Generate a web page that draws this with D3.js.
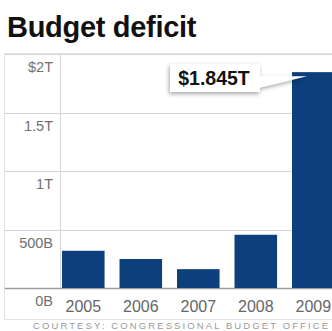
<!DOCTYPE html>
<html>
<head>
<meta charset="utf-8">
<script src="https://cdn.jsdelivr.net/npm/d3@7"></script>
<style>
  body { margin: 0; background: #fff; }
  svg { display: block; font-family: "Liberation Sans", Arial, sans-serif; }
</style>
</head>
<body>
<div id="chart"></div>
<script>
// data (billions of dollars)
const years = ["2005", "2006", "2007", "2008", "2009"];
const deficits = [318, 248, 161, 455, 1845];
const tickValues = [0, 500, 1000, 1500, 2000];
const tickLabels = ["0B", "500B", "1T", "1.5T", "$2T"];
const calloutText = "$1.845T";

const W = 332, H = 331;

const svg = d3.select("#chart").append("svg")
  .attr("width", W)
  .attr("height", H);

// drop shadow for the callout
const defs = svg.append("defs");
defs.append("filter")
  .attr("id", "shadow")
  .attr("x", "-20%").attr("y", "-30%")
  .attr("width", "150%").attr("height", "180%")
  .append("feDropShadow")
  .attr("dx", -1).attr("dy", 2)
  .attr("stdDeviation", 2)
  .attr("flood-color", "#000")
  .attr("flood-opacity", 0.35);

// scales
var step = 57.5, pin = 0.26, pout = 0.035;
var x = d3.scaleBand()
  .domain(years)
  .range([60, 60 + step * (years.length - pin + 2 * pout)])
  .paddingInner(pin)
  .paddingOuter(pout);

var y = d3.scaleLinear()
  .domain([0, 2000])
  .range([288, 54]);

// title
svg.append("text")
  .attr("x", 7)
  .attr("y", 37)
  .attr("font-size", 29)
  .attr("font-weight", "bold")
  .attr("fill", "#111")
  .attr("letter-spacing", -0.3)
  .text("Budget deficit");

// frame
svg.append("rect")
  .attr("x", 4.5)
  .attr("y", 53.5)
  .attr("width", 340)
  .attr("height", 266)
  .attr("fill", "none")
  .attr("stroke", "#e2e2e2");

// gridlines
svg.selectAll(".grid")
  .data(tickValues)
  .enter().append("line")
  .attr("class", "grid")
  .attr("x1", 5)
  .attr("x2", W)
  .attr("y1", function(d) { return Math.round(y(d)) + 0.5; })
  .attr("y2", function(d) { return Math.round(y(d)) + 0.5; })
  .attr("stroke", function(d) { return d === 0 ? "#9a9a9a" : "#d4d4d4"; })
  .attr("stroke-width", function(d) { return d === 0 ? 1.5 : 1; });

// vertical axis line
svg.append("line")
  .attr("x1", 60.5).attr("x2", 60.5)
  .attr("y1", y(2000)).attr("y2", y(0))
  .attr("stroke", "#d4d4d4");

// y tick labels sit below their gridline
svg.selectAll(".ylabel")
  .data(tickValues)
  .enter().append("text")
  .attr("class", "ylabel")
  .attr("x", 53)
  .attr("y", function(d) { return y(d) + 18; })
  .attr("text-anchor", "end")
  .attr("font-size", 14.5)
  .attr("fill", "#707070")
  .text(function(d, i) { return tickLabels[i]; });

// bars
svg.selectAll(".bar")
  .data(deficits)
  .enter().append("rect")
  .attr("class", "bar")
  .attr("x", function(d, i) { return x(years[i]); })
  .attr("width", x.bandwidth())
  .attr("y", function(d) { return y(d); })
  .attr("height", function(d) { return y(0) - y(d); })
  .attr("fill", "#0c3f7c");

// year labels
svg.selectAll(".xlabel")
  .data(years)
  .enter().append("text")
  .attr("class", "xlabel")
  .attr("x", function(d) { return x(d) + x.bandwidth() / 2; })
  .attr("y", 312)
  .attr("text-anchor", "middle")
  .attr("font-size", 16)
  .attr("fill", "#666")
  .text(function(d) { return d; });

// callout for 2009
var last = years.length - 1;
var tipX = x(years[last]) + 15;
var tipY = y(deficits[last]) + 4;
var box = { x: 170, y: 64, w: 90, h: 28 };

var callout = svg.append("g").attr("filter", "url(#shadow)");
callout.append("path")
  .attr("d", "M" + (box.x + box.w - 2) + "," + (tipY) +
    "L" + tipX + "," + tipY +
    "L" + (box.x + box.w - 2) + "," + (box.y + box.h - 4) + "Z")
  .attr("fill", "#fff");
callout.append("rect")
  .attr("x", box.x)
  .attr("y", box.y)
  .attr("width", box.w)
  .attr("height", box.h)
  .attr("fill", "#fff");

svg.append("text")
  .attr("x", box.x + box.w / 2 - 1)
  .attr("y", box.y + 21)
  .attr("text-anchor", "middle")
  .attr("font-size", 19.5)
  .attr("font-weight", "bold")
  .attr("fill", "#111")
  .text(calloutText);

// source line along the bottom edge
svg.append("text")
  .attr("x", 33)
  .attr("y", 329)
  .attr("font-size", 9.5)
  .attr("letter-spacing", 2.1)
  .attr("fill", "#999")
  .text("COURTESY: CONGRESSIONAL BUDGET OFFICE");
</script>
</body>
</html>
